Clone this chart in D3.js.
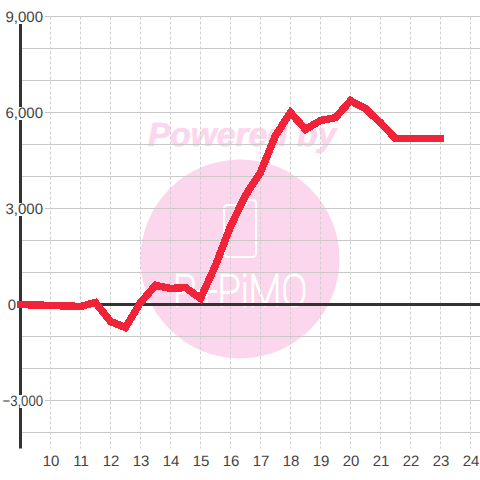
<!DOCTYPE html>
<html><head><meta charset="utf-8">
<script src="https://cdn.jsdelivr.net/npm/d3@7"></script>
<style>html,body{margin:0;padding:0;background:#fff}svg{display:block}text{text-rendering:geometricPrecision}</style>
</head><body><div id="c"></div>
<script>
const hours=[9,11,11.5,12,12.5,13,13.5,14,14.5,15,15.5,16,16.5,17,17.5,18,18.5,19,19.5,20,20.5,21,21.5,22,22.5,23];
const values=[0,-60,60,-530,-720,60,600,500,530,190,1220,2440,3410,4130,5280,6000,5470,5750,5840,6370,6120,5680,5190,5190,5190,5190];
const yGrid=[9000,8000,7000,6000,5000,4000,3000,2000,1000,-1000,-2000,-3000,-4000];
const yLabels=[9000,6000,3000,0,-3000];
const xTicks=[10,11,12,13,14,15,16,17,18,19,20,21,22,23,24];
const W=480,H=480;
const x=d3.scaleLinear().domain([9,25]).range([20.5,500.5]);
const y=d3.scaleLinear().domain([9000,-4500]).range([16.5,448.5]);
const svg=d3.select('#c').append('svg').attr('width',W).attr('height',H);
const font='"Liberation Sans",Arial,sans-serif';
const pink='#fcd6ec';
// watermark
const wm=svg.append('g');
wm.append('text').text('Powered by').attr('x',242).attr('y',146).attr('text-anchor','middle')
  .attr('font-family',font).attr('font-weight','bold').attr('font-style','italic').attr('font-size',33.5).attr('fill',pink).attr('stroke',pink).attr('stroke-width',.6);
wm.append('circle').attr('cx',240).attr('cy',259).attr('r',99.5).attr('fill',pink);
wm.append('path').attr('d','M228 205H246V202Q246 200 248 200H253Q256 200 256 203V253Q256 257 252 257H228Q224 257 224 253V209Q224 205 228 205Z')
  .attr('fill','none').attr('stroke','#fff').attr('stroke-width',2);
wm.append('text').text('P+PiMO').attr('x',173).attr('y',306).attr('textLength',134).attr('lengthAdjust','spacingAndGlyphs')
  .attr('font-family','"Roboto",sans-serif').attr('font-weight',100).attr('font-size',44).attr('fill','#fff').attr('stroke','#fff').attr('stroke-width',1.7);
// grid
svg.append('g').selectAll('line').data(yGrid).join('line')
  .attr('x1',x(9)).attr('x2',W).attr('y1',d=>y(d)).attr('y2',d=>y(d)).attr('stroke','#c8c8c8').attr('stroke-width',1);
svg.append('g').selectAll('line').data(xTicks).join('line')
  .attr('x1',d=>x(d)).attr('x2',d=>x(d)).attr('y1',y(9000)).attr('y2',y(-4500)).attr('stroke','#cfcfcf').attr('stroke-width',1).attr('stroke-dasharray','3,2');
// axes
svg.append('line').attr('x1',x(9)).attr('x2',W).attr('y1',y(0)).attr('y2',y(0)).attr('stroke','#333').attr('stroke-width',3);
svg.append('line').attr('x1',x(9)).attr('x2',x(9)).attr('y1',y(9000)).attr('y2',y(-4500)).attr('stroke','#333').attr('stroke-width',3);
// label plates
svg.append('g').selectAll('rect').data(yLabels.filter(d=>d!==0)).join('rect')
  .attr('x',0).attr('width',45).attr('y',d=>y(d)-5.5).attr('height',13).attr('fill','#fff');
// line
const line=d3.line().x((d,i)=>x(hours[i])).y(d=>y(d));
svg.append('path').attr('d',line(values)).attr('fill','none').attr('stroke','#f12338').attr('stroke-width',7.5).attr('stroke-linejoin','miter').attr('stroke-linecap','square').attr('shape-rendering','crispEdges');
// labels
svg.append('g').selectAll('text').data(yLabels).join('text')
  .text(d=>d3.format(',')(d)).attr('x',d=>d===0?16:43).attr('y',d=>y(d)+5).attr('text-anchor','end')
  .attr('textLength',d=>d<0?40.5:null).attr('lengthAdjust','spacingAndGlyphs')
  .attr('font-family',font).attr('font-size',15).attr('fill','#444');
svg.append('g').selectAll('text').data(xTicks).join('text')
  .text(d=>d).attr('x',d=>x(d)+0.5).attr('y',466).attr('text-anchor','middle')
  .attr('font-family',font).attr('font-size',15).attr('fill','#444');
</script></body></html>
